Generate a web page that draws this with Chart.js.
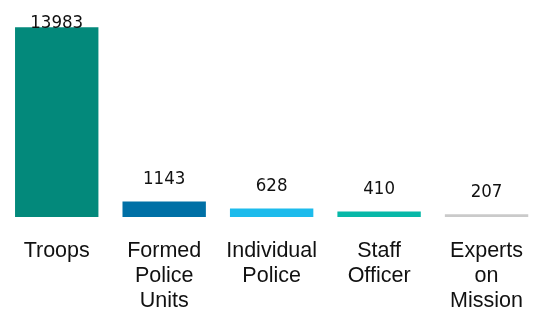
<!DOCTYPE html>
<html>
<head>
<meta charset="utf-8">
<script src="https://cdn.jsdelivr.net/npm/chart.js@4"></script>
<style>
  html, body { margin: 0; padding: 0; background: #fff; overflow: hidden; }
  .chart-container { position: relative; width: 545px; height: 336px; }
</style>
</head>
<body>
<div class="chart-container"><canvas id="chart"></canvas></div>
<script>
// Categorie (etichette multi-riga)
const categories = [
  ['Troops'],
  ['Formed', 'Police', 'Units'],
  ['Individual', 'Police'],
  ['Staff', 'Officer'],
  ['Experts', 'on', 'Mission'],
];

// Valori per categoria
const personnel = [13983, 1143, 628, 410, 207];

// Colori delle barre
const barColors = ['#03897b', '#0070a6', '#1dbbec', '#07b8a8', '#cacaca'];

// Etichette sopra le barre
const valueLabels = {
  id: 'valueLabels',
  afterDatasetsDraw(chart) {
    const { ctx, scales: { x, y } } = chart;
    ctx.save();
    ctx.font = '18.5px "DejaVu Sans Condensed", Roboto';
    ctx.fillStyle = '#111';
    ctx.textAlign = 'center';
    ctx.textBaseline = 'alphabetic';
    personnel.forEach((v, i) => {
      const top = y.getPixelForValue(v);
      const yy = Math.max(top - 17, 28); // resta dentro il canvas
      ctx.fillText(String(v), x.getPixelForValue(i), yy);
    });
    ctx.restore();
  },
};

new Chart(document.getElementById('chart'), {
  type: 'bar',
  data: {
    labels: categories,
    datasets: [{
      data: personnel,
      backgroundColor: barColors,
      borderWidth: 0,
      barPercentage: 0.776,
      categoryPercentage: 1,
    }],
  },
  options: {
    responsive: true,
    maintainAspectRatio: false,
    animation: false,
    layout: { padding: { left: 3, top: 0, right: 0, bottom: 0 } },
    scales: {
      x: {
        grid: { display: false, drawTicks: false },
        border: { display: false },
        ticks: {
          color: '#111',
          font: { family: 'Liberation Sans', size: 21.5, lineHeight: 1.163 },
          padding: 22,
          maxRotation: 0,
          autoSkip: false,
        },
      },
      y: {
        display: false,
        min: 0,
        max: 16000,
      },
    },
    plugins: {
      legend: { display: false },
      tooltip: { enabled: false },
    },
  },
  plugins: [valueLabels],
});
</script>
</body>
</html>
